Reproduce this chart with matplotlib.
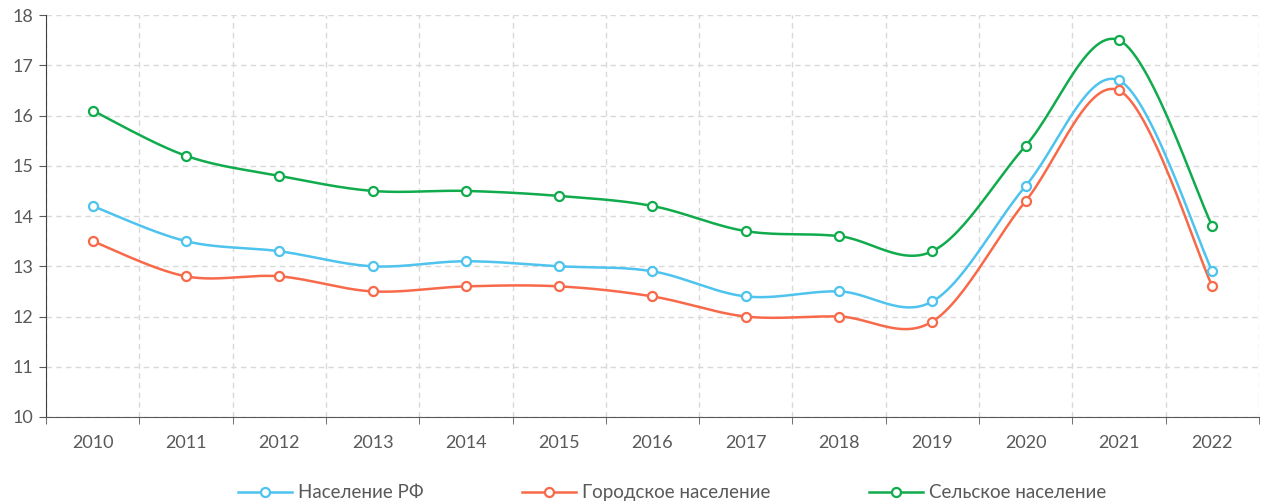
import numpy as np
import matplotlib
matplotlib.use("Agg")
import matplotlib.pyplot as plt
from matplotlib.lines import Line2D

plt.rcParams['font.family'] = ['Lato', 'DejaVu Sans']

years = ['2010', '2011', '2012', '2013', '2014', '2015', '2016',
         '2017', '2018', '2019', '2020', '2021', '2022']
rf = [14.2, 13.5, 13.3, 13.0, 13.1, 13.0, 12.9, 12.4, 12.5, 12.3, 14.6, 16.7, 12.9]
city = [13.5, 12.8, 12.8, 12.5, 12.6, 12.6, 12.4, 12.0, 12.0, 11.9, 14.3, 16.5, 12.6]
rural = [16.1, 15.2, 14.8, 14.5, 14.5, 14.4, 14.2, 13.7, 13.6, 13.3, 15.4, 17.5, 13.8]

names = ['Население РФ', 'Городское население', 'Сельское население']
colors = ['#4DC3EE', '#F8694A', '#10AB4C']


def smooth(x, y, n=30):
    # catmull-rom style bezier, like excel "smoothed line"
    x = np.asarray(x, float)
    y = np.asarray(y, float)
    px, py = [], []
    for i in range(len(x) - 1):
        i0 = max(i - 1, 0)
        i3 = min(i + 2, len(x) - 1)
        c1x = x[i] + (x[i + 1] - x[i0]) / 6
        c1y = y[i] + (y[i + 1] - y[i0]) / 6
        c2x = x[i + 1] - (x[i3] - x[i]) / 6
        c2y = y[i + 1] - (y[i3] - y[i]) / 6
        t = np.linspace(0, 1, n)
        b0 = (1 - t) ** 3
        b1 = 3 * (1 - t) ** 2 * t
        b2 = 3 * (1 - t) * t ** 2
        b3 = t ** 3
        px.extend(b0 * x[i] + b1 * c1x + b2 * c2x + b3 * x[i + 1])
        py.extend(b0 * y[i] + b1 * c1y + b2 * c2y + b3 * y[i + 1])
    return px, py


fig = plt.figure(figsize=(12.63, 5.03), dpi=100)
ax = fig.add_axes([0.0364, 0.171, 0.9604, 0.799])

x = np.arange(len(years))
handles = []
for vals, c, nm in zip([rf, city, rural], colors, names):
    sx, sy = smooth(x, vals)
    ax.plot(sx, sy, color=c, lw=1.8, zorder=3)
    ax.plot(x, vals, 'o', ms=6.5, mfc='white', mec=c, mew=1.6, zorder=4)
    handles.append(Line2D([], [], color=c, lw=1.8, marker='o', ms=6.5,
                          mfc='white', mec=c, mew=1.6))

ax.set_xlim(-0.5, len(years) - 0.5)
ax.set_ylim(10, 18)
ax.set_yticks(range(10, 19))
ax.set_xticks(x)
ax.set_xticklabels(years)
ax.set_xticks(np.arange(-0.5, len(years)), minor=True)
ax.tick_params(axis='x', which='major', length=0, pad=13)
ax.tick_params(axis='x', which='minor', length=5, color='#595959')
ax.tick_params(axis='y', length=5, color='#595959', pad=4)
ax.tick_params(labelsize=13, labelcolor='#595959')

ax.grid(True, axis='y', ls=(0, (4, 3)), color='#D9D9D9', lw=1)
ax.grid(True, axis='x', which='minor', ls=(0, (4, 3)), color='#D9D9D9', lw=1)
ax.set_axisbelow(True)

for s in ['top', 'right']:
    ax.spines[s].set_visible(False)
ax.spines['left'].set_color('#404040')
ax.spines['bottom'].set_color('#595959')

fig.legend(handles, names, loc='lower center', ncol=3, frameon=False,
           bbox_to_anchor=(0.532, -0.03), fontsize=13.5, labelcolor='#595959',
           handlelength=2.9, handletextpad=0.3, columnspacing=5.25)

fig.savefig('out.png', dpi=100)
